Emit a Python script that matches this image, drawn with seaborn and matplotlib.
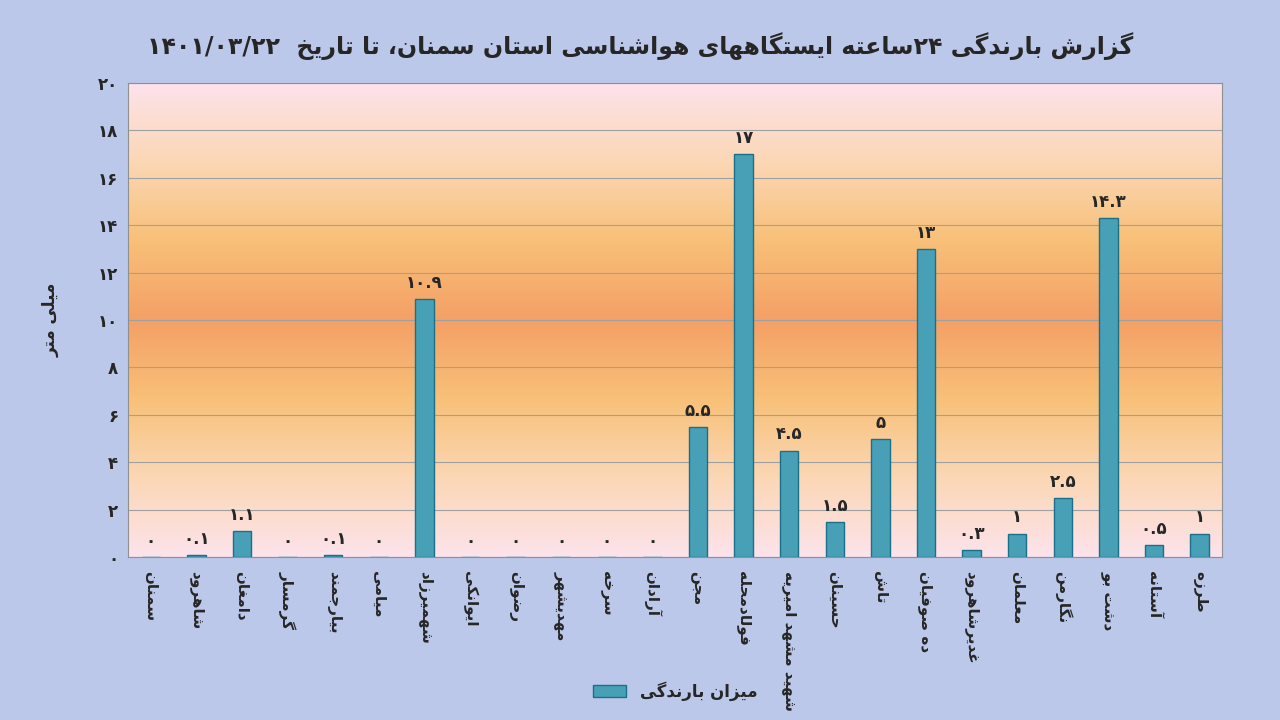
import unicodedata
import numpy as np
import pandas as pd
import seaborn as sns
import matplotlib.pyplot as plt
from matplotlib.colors import LinearSegmentedColormap

stations = ['سمنان', 'شاهرود', 'دامغان', 'گرمسار', 'بیارجمند', 'میامی', 'شهمیرزاد', 'ایوانکی',
            'رضوان', 'مهدیشهر', 'سرخه', 'آرادان', 'مجن', 'فولادمحله', 'شهید مشهد امیریه', 'حسینان',
            'تاش', 'ده صوفیان', 'غدیرشاهرود', 'معلمان', 'نگارمن', 'دشت بو', 'آستانه', 'طرزه']
rain = [0, 0.1, 1.1, 0, 0.1, 0, 10.9, 0, 0, 0, 0, 0, 5.5, 17, 4.5, 1.5, 5, 13, 0.3, 1, 2.5, 14.3, 0.5, 1]
y_ticks = list(range(0, 21, 2))

title = 'گزارش بارندگی ۲۴ساعته ایستگاههای هواشناسی استان سمنان، تا تاریخ  ۱۴۰۱/۰۳/۲۲'
y_label = 'میلی متر'
legend_label = 'میزان بارندگی'


# minimal Arabic shaping + right-to-left ordering (no bidi libraries available)
def _form(ch, kind):
    try:
        return unicodedata.lookup(unicodedata.name(ch) + ' ' + kind + ' FORM')
    except (KeyError, ValueError):
        return None


def _is_letter(ch):
    return unicodedata.name(ch, '').startswith('ARABIC LETTER')


def shape(text):
    out = []
    for i, ch in enumerate(text):
        if not _is_letter(ch):
            out.append(ch)
            continue
        prev = text[i - 1] if i > 0 else ''
        nxt = text[i + 1] if i + 1 < len(text) else ''
        join_prev = bool(prev) and _is_letter(prev) and _form(prev, 'INITIAL') and _form(ch, 'FINAL')
        join_next = bool(nxt) and _is_letter(nxt) and _form(ch, 'INITIAL') and _form(nxt, 'FINAL')
        if join_prev and join_next:
            f = _form(ch, 'MEDIAL')
        elif join_prev:
            f = _form(ch, 'FINAL')
        elif join_next:
            f = _form(ch, 'INITIAL')
        else:
            f = _form(ch, 'ISOLATED')
        out.append(f or ch)
    s = ''.join(out)[::-1]
    # keep digit runs left-to-right
    res, run = [], ''
    for ch in s:
        if ch.isdigit() or ch in '/.':
            run += ch
        else:
            res.append(run[::-1])
            run = ''
            res.append(ch)
    res.append(run[::-1])
    return ''.join(res)


def fa_num(v):
    s = ('%g' % v)
    return s.translate(str.maketrans('0123456789', '۰۱۲۳۴۵۶۷۸۹'))


sns.set_style('white')
plt.rcParams['font.family'] = ['DejaVu Sans']

df = pd.DataFrame({'station': stations, 'rain': rain})

fig = plt.figure(figsize=(12.8, 7.2), dpi=100)
fig.patch.set_facecolor('#bcc8ea')
ax = fig.add_axes([0.1, 0.226, 0.855, 0.659])

# warm vertical gradient in the plot area
grad = LinearSegmentedColormap.from_list('g', ['#fde3ec', '#fbd7b5', '#f8c078', '#f4a066',
                                               '#f8c078', '#fbd7b5', '#fde3ec'])
ax.imshow(np.linspace(0, 1, 256).reshape(-1, 1), aspect='auto', cmap=grad,
          extent=(-0.5, len(stations) - 0.5, 0, 20), zorder=0)

sns.barplot(data=df, x='station', y='rain', color='#36abc9', width=0.4,
            edgecolor='#1b6f88', linewidth=1, ax=ax, zorder=3, label=shape(legend_label))

ax.set_xlim(-0.5, len(stations) - 0.5)
ax.set_ylim(0, 20)
ax.set_yticks(y_ticks)
ax.set_yticklabels([fa_num(t) for t in y_ticks], fontsize=12, fontweight='bold')
ax.yaxis.grid(True, color='#a0a0a0', linewidth=0.8)
for gl in ax.get_ygridlines():
    gl.set_zorder(1)
ax.set_xticks(range(len(stations)))
ax.set_xticklabels([shape(s) for s in stations], rotation=-90, fontsize=11,
                   fontweight='bold', va='top', ha='center')
ax.tick_params(axis='x', length=0, pad=10)
ax.set_xlabel('')
ax.set_ylabel(shape(y_label), fontsize=12, fontweight='bold', labelpad=28)
for sp in ax.spines.values():
    sp.set_color('#909090')

for i, v in enumerate(rain):
    ax.text(i, v + 0.3, fa_num(v), ha='center', va='bottom', fontsize=12,
            fontweight='bold', zorder=4)

fig.suptitle(shape(title), y=0.955, fontsize=17, fontweight='bold')
ax.legend(loc='upper center', bbox_to_anchor=(0.5, -0.23), frameon=False,
          prop={'weight': 'bold', 'size': 12})

fig.savefig('out.png', dpi=100, facecolor=fig.get_facecolor())
